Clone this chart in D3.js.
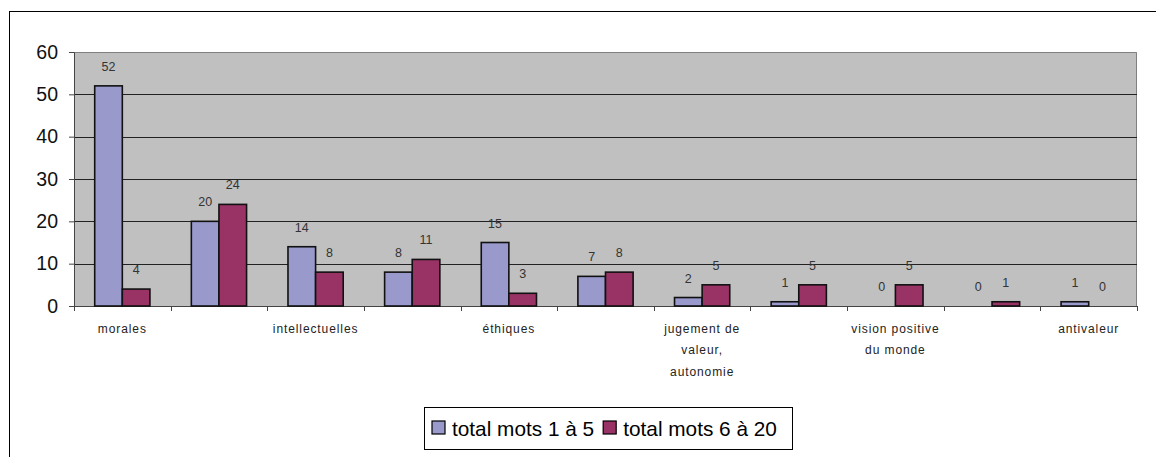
<!DOCTYPE html>
<html><head><meta charset="utf-8">
<script src="https://cdn.jsdelivr.net/npm/d3@7"></script>
<style>body{margin:0;background:#fff}svg{display:block;font-family:"Liberation Sans",Arial,sans-serif}</style>
</head><body><svg id="c" width="1156" height="457"></svg>
<script>
const categories = ["morales", "", "intellectuelles", "", "éthiques", "", "jugement de|valeur,|autonomie", "", "vision positive|du monde", "", "antivaleur"];
const seriesNames = ["total mots 1 à 5", "total mots 6 à 20"];
const series1 = [52, 20, 14, 8, 15, 7, 2, 1, 0, 0, 1];
const series2 = [4, 24, 8, 11, 3, 8, 5, 5, 5, 1, 0];
const yTicks = [0, 10, 20, 30, 40, 50, 60];
const colors = ["#9999cc", "#993366"];

const svg = d3.select("#c");
svg.append("rect").attr("x", 9.5).attr("y", 11.5).attr("width", 1200).attr("height", 500)
  .attr("fill", "#fff").attr("stroke", "#000").attr("stroke-width", 1);

const L = 74, R = 1137, T = 52, B = 306;
const x = d3.scaleBand().domain(d3.range(categories.length)).range([L, R]);
const y = d3.scaleLinear().domain([0, 60]).range([B, T]);
const bw = x.bandwidth() / (2 + 1.5);
const inner = d3.scaleBand().domain([0, 1]).range([0, 2 * bw]);

svg.append("rect").attr("x", L).attr("y", T).attr("width", R - L).attr("height", B - T).attr("fill", "#c0c0c0");
svg.append("path").attr("d", `M${L},${T + 0.5}H${R - 0.5}V${B}`).attr("fill", "none").attr("stroke", "#808080").attr("stroke-width", 1);

// gridlines
svg.append("g").selectAll("line").data(yTicks.filter(d => d > 0 && d < 60)).join("line")
  .attr("x1", L).attr("x2", R).attr("y1", d => Math.round(y(d)) + 0.5).attr("y2", d => Math.round(y(d)) + 0.5)
  .attr("stroke", "#222").attr("stroke-width", 1);

// y axis
const ya = svg.append("g").attr("transform", `translate(${L},0)`)
  .call(d3.axisLeft(y).tickValues(yTicks).tickSize(5).tickPadding(11).tickFormat(d3.format("d")));
ya.select(".domain").attr("stroke", "#444");
ya.selectAll(".tick line").attr("stroke", "#444");
ya.selectAll("text").attr("font-size", 19.5).attr("fill", "#111").attr("font-family", "Liberation Sans, Arial, sans-serif");

// x axis
const xa = svg.append("g").attr("transform", `translate(0,${B})`);
xa.append("line").attr("x1", L).attr("x2", R).attr("y1", 0.5).attr("y2", 0.5).attr("stroke", "#444");
const bounds = d3.range(categories.length + 1).map(i => i < categories.length ? x(i) : R);
xa.selectAll(".tk").data(bounds).join("line").attr("class", "tk")
  .attr("x1", d => Math.round(d) + 0.5).attr("x2", d => Math.round(d) + 0.5).attr("y1", 0).attr("y2", 5).attr("stroke", "#444");
categories.forEach((c, i) => {
  if (!c) return;
  const lines = c.split("|");
  const t = xa.append("text").attr("text-anchor", "middle").attr("font-size", 12).attr("fill", "#222")
    .attr("letter-spacing", 0.9);
  lines.forEach((ln, k) => t.append("tspan").attr("x", x(i) + x.bandwidth() / 2).attr("y", 26.5 + k * 21.7).text(ln));
});

// bars
const data = [series1, series2];
data.forEach((s, si) => {
  const g = svg.append("g");
  s.forEach((v, i) => {
    const bx = x(i) + x.bandwidth() / 2 - bw + inner(si);
    if (v > 0) {
      g.append("rect").attr("x", bx).attr("y", y(v)).attr("width", bw).attr("height", y(0) - y(v))
        .attr("fill", colors[si]).attr("stroke", "#111").attr("stroke-width", 1.6);
    }
    g.append("text").attr("x", bx + bw / 2).attr("y", y(v) - 15).attr("text-anchor", "middle")
      .attr("font-size", 12.5).attr("fill", "#333").text(v);
  });
});

// legend
const lg = svg.append("g");
lg.append("rect").attr("x", 424.5).attr("y", 407.5).attr("width", 368).attr("height", 42)
  .attr("fill", "#fff").attr("stroke", "#000");
let lx = 432;
seriesNames.forEach((n, i) => {
  lg.append("rect").attr("x", lx).attr("y", 421).attr("width", 13).attr("height", 13)
    .attr("fill", colors[i]).attr("stroke", "#000").attr("stroke-width", 1.2);
  const t = lg.append("text").attr("x", lx + 20).attr("y", 435.5).attr("font-size", 20.8).attr("fill", "#000").text(n);
  lx += 20 + t.node().getComputedTextLength() + 9;
});
</script></body></html>
